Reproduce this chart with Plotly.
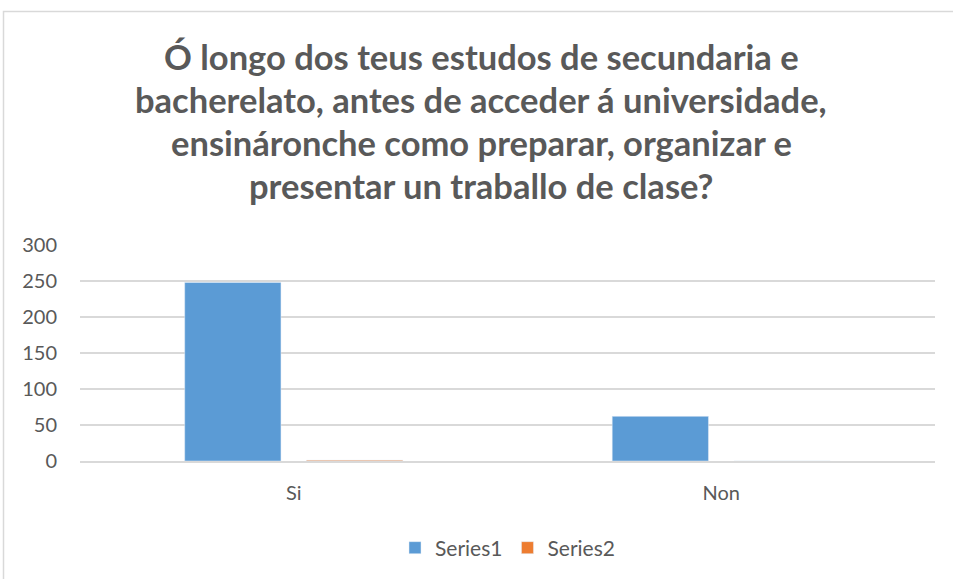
import plotly.graph_objects as go

categorias = ["Si", "Non"]
series1 = [248, 62]
series2 = [1, 0]

titulo = [
    "Ó longo dos teus estudos de secundaria e",
    "bacherelato, antes de acceder á universidade,",
    "ensináronche como preparar, organizar e",
    "presentar un traballo de clase?",
]

W, H = 953, 579
L, R, T, B = 80, 18, 245, 117
pw = W - L - R
ph = H - T - B

fig = go.Figure()
fig.add_trace(go.Bar(x=categorias, y=series1, name="Series1", marker_color="#5b9bd5"))
fig.add_trace(go.Bar(x=categorias, y=series2, name="Series2", marker_color="#ed7d31"))

# chart frame
fig.add_shape(type="rect", xref="paper", yref="paper",
              x0=(3.5 - L) / pw, x1=(W + 10 - L) / pw,
              y0=-(B + 10) / ph, y1=1 + (T - 10.5) / ph,
              line=dict(color="#d9d9d9", width=1.5), fillcolor="rgba(0,0,0,0)", layer="below")

# title, one annotation per line
for i, linea in enumerate(titulo):
    cy = 56 + 43 * i
    fig.add_annotation(text="<b>" + linea + "</b>", xref="paper", yref="paper",
                       x=(481 - L) / pw, y=1 + (T - cy) / ph, xanchor="center", yanchor="middle",
                       showarrow=False, font=dict(size=34.5, color="#595959"))

fig.update_layout(
    width=W, height=H,
    margin=dict(l=L, r=R, t=T, b=B),
    paper_bgcolor="white", plot_bgcolor="white",
    font=dict(family="Lato, Open Sans, sans-serif", color="#595959", size=20),
    barmode="group", bargap=0.43, bargroupgap=0.21,
    showlegend=True,
    xaxis=dict(showline=True, linecolor="#d9d9d9", linewidth=1.5, ticks="",
               tickfont=dict(size=20), ticklabelstandoff=13),
    yaxis=dict(range=[0, 300], dtick=50, gridcolor="#d9d9d9", gridwidth=1.5, zeroline=False,
               ticks="", tickfont=dict(size=20), ticklabelstandoff=22),
    legend=dict(orientation="h", x=0.5, xanchor="center", y=-(548 - T - ph) / ph, yanchor="middle",
                font=dict(size=21), itemwidth=30),
)

fig.write_html("out.html", config={"displayModeBar": False},
               post_script="document.body.style.margin='0';")
